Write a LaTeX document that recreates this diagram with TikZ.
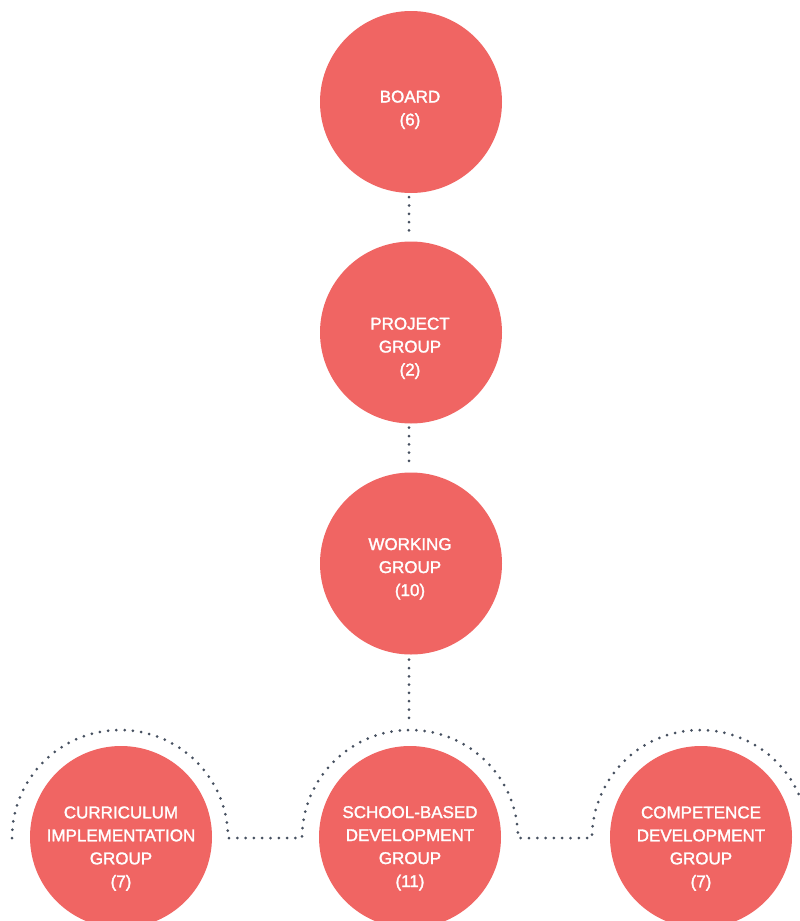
\documentclass[tikz,border=0pt]{standalone}
\usepackage{fontspec}
\setmainfont{Liberation Sans}
\newfontfamily\lblfont{Liberation Sans}[RawFeature={embolden=1.6}]
\definecolor{disc}{RGB}{240,101,99}
\definecolor{dotc}{RGB}{70,80,96}
\tikzset{
  disc/.style={circle, fill=disc, draw=none, minimum size=182pt, inner sep=0pt},
  lbl/.style={anchor=base, inner sep=0pt, text=white, font=\lblfont\fontsize{17}{23}\selectfont},
  dotline/.style={draw=dotc, line width=3pt, line cap=round, dash pattern=on 0pt off 8.3pt},
}
\newcommand{\lines}[1]{\begin{tabular}[t]{@{}c@{}}#1\end{tabular}}
\begin{document}
\begin{tikzpicture}[x=1pt,y=-1pt]
\clip (0,0) rectangle (800,921);
\fill[white] (0,0) rectangle (800,921);
% circles
\node[disc] (board) at (411,102) {};
\node[disc] (project) at (411,332.5) {};
\node[disc] (working) at (411,563.5) {};
\node[disc] (curr) at (121,837) {};
\node[disc] (school) at (410,837) {};
\node[disc] (comp) at (701,837) {};
% labels
\node[lbl] (tboard) at (410,102.5) {\lines{BOARD\\(6)}};
\node[lbl] (tproject) at (410,329.5) {\lines{PROJECT\\GROUP\\(2)}};
\node[lbl] (tworking) at (410,550) {\lines{WORKING\\GROUP\\(10)}};
\node[lbl] (tcurr) at (121,818.3) {\lines{CURRICULUM\\IMPLEMENTATION\\GROUP\\(7)}};
\node[lbl] (tschool) at (410,818) {\lines{SCHOOL-BASED\\DEVELOPMENT\\GROUP\\(11)}};
\node[lbl] (tcomp) at (701,818.3) {\lines{COMPETENCE\\DEVELOPMENT\\GROUP\\(7)}};
% connectors
\coordinate (archtop) at (409,730);
\coordinate (a1) at (12,838);
\draw[dotline, shorten <=4pt, shorten >=4pt] (board.south -| archtop) -- (project.north -| archtop);
\draw[dotline, shorten <=4pt, shorten >=4pt] (project.south -| archtop) -- (working.north -| archtop);
\draw[dotline, shorten <=5pt, shorten >=10pt] (working.south -| archtop) -- (archtop);
\draw[dotline] (a1) arc[start angle=180, end angle=0, radius=108pt]
  -- (302,838) arc[start angle=180, end angle=0, radius=108pt]
  -- (592,838) arc[start angle=180, end angle=0, radius=108pt];
\end{tikzpicture}
\end{document}
